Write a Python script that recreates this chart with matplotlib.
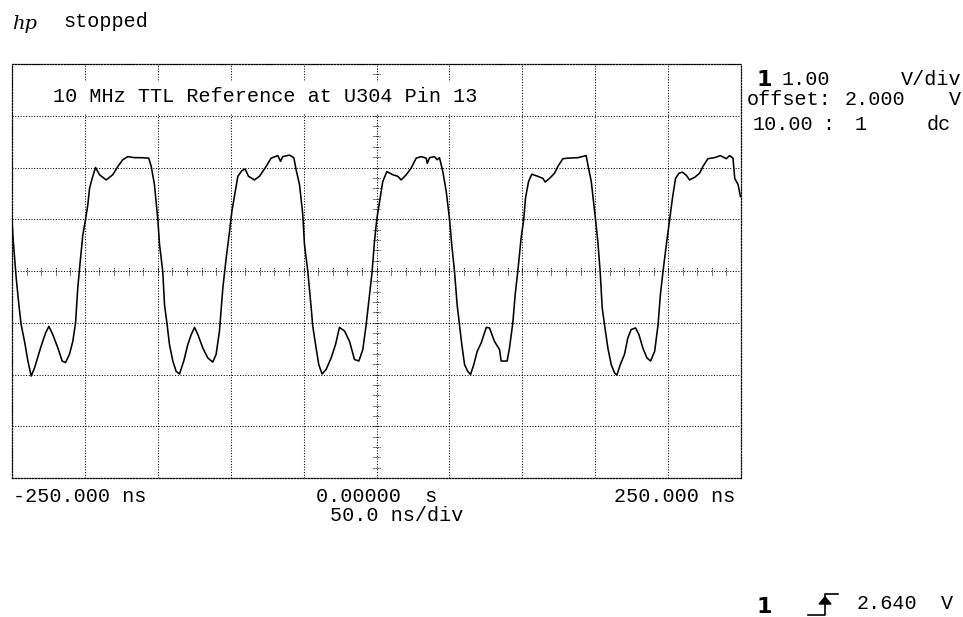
import numpy as np
import matplotlib
matplotlib.use("Agg")
import matplotlib.pyplot as plt
from matplotlib.lines import Line2D
from matplotlib.patches import Rectangle, Polygon

# scope settings
time_per_div = 50.0     # ns/div
volts_per_div = 1.0     # V/div
offset_v = 2.0          # centre of screen
n_hdiv, n_vdiv = 10, 8
trig_level = 2.640

# trace, one cycle at a time (time in ns, volts)
t_cyc1 = [-250.0, -249.3, -247.1, -245.3, -243.7, -241.4, -239.1, -236.8, -234.5, -231.1,
          -229.3, -227.0, -224.7, -222.0, -218.5, -215.6, -213.3, -210.6, -208.3, -206.4,
          -204.9, -203.2, -201.4, -199.6, -198.0, -196.8, -195.0, -192.7, -190.0, -185.4,
          -180.9, -177.4, -174.0, -170.6, -166.0, -161.4, -156.2, -154.5, -152.3]
v_cyc1 = [3.00, 2.64, 1.86, 1.35, 0.96, 0.64, 0.26, -0.03, 0.13, 0.45,
          0.61, 0.80, 0.93, 0.77, 0.51, 0.26, 0.23, 0.39, 0.64, 1.00,
          1.67, 2.19, 2.70, 2.99, 3.28, 3.60, 3.79, 4.00, 3.86, 3.76,
          3.86, 4.02, 4.15, 4.21, 4.19, 4.19, 4.18, 4.02, 3.67]

t_cyc2 = [-150.0, -148.8, -146.6, -145.4, -143.6, -142.0, -139.7, -137.4, -135.1, -132.2,
          -129.4, -127.1, -124.8, -122.5, -119.1, -115.7, -112.3, -110.0, -107.7, -105.4,
          -103.1, -100.8, -99.2, -97.3, -95.1, -92.3, -90.1, -87.8, -83.7, -80.3,
          -75.7, -72.3, -67.7, -65.8, -64.3, -59.7, -56.7, -55.1, -52.8]
v_cyc2 = [3.00, 2.51, 1.99, 1.35, 0.96, 0.58, 0.26, 0.06, 0.01, 0.26,
          0.58, 0.77, 0.91, 0.77, 0.51, 0.32, 0.24, 0.39, 0.84, 1.67,
          2.25, 2.76, 3.15, 3.47, 3.83, 3.94, 3.97, 3.83, 3.76, 3.83,
          4.02, 4.18, 4.23, 4.12, 4.21, 4.24, 4.19, 3.95, 3.67]

t_cyc3 = [-50.6, -49.4, -47.1, -44.8, -43.7, -41.8, -39.6, -37.3, -34.5, -31.1,
          -28.1, -25.4, -21.9, -18.5, -15.1, -12.1, -9.4, -7.1, -4.8, -3.0,
          -1.4, 0.2, 2.1, 4.3, 7.1, 11.2, 14.6, 16.9, 20.4, 23.8,
          27.2, 30.7, 34.1, 34.8, 36.4, 39.8, 41.6, 43.2, 45.5, 47.8]
v_cyc3 = [3.10, 2.51, 1.99, 1.29, 0.93, 0.58, 0.19, 0.01, 0.10, 0.32,
          0.58, 0.91, 0.84, 0.64, 0.29, 0.26, 0.48, 0.96, 1.54, 1.99,
          2.57, 3.00, 3.34, 3.73, 3.92, 3.86, 3.83, 3.76, 3.86, 3.99,
          4.18, 4.21, 4.18, 4.08, 4.19, 4.21, 4.15, 4.19, 3.92, 3.54]

t_cyc4 = [50.1, 51.6, 53.5, 55.3, 56.9, 58.5, 60.4, 62.6, 64.5, 66.7,
          69.1, 71.8, 75.3, 77.5, 80.9, 84.4, 85.5, 89.6, 91.2, 93.5,
          95.1, 96.9, 99.2, 101.0, 102.2, 104.3, 106.5, 110.6, 114.1, 115.7,
          118.7, 122.1, 124.4, 127.8, 131.2, 138.1, 143.8, 145.4, 147.3]
v_cyc4 = [3.00, 2.51, 1.99, 1.35, 0.96, 0.58, 0.19, 0.06, 0.00, 0.19,
          0.45, 0.61, 0.91, 0.90, 0.64, 0.48, 0.26, 0.26, 0.51, 1.00,
          1.54, 1.99, 2.64, 3.00, 3.41, 3.73, 3.87, 3.83, 3.79, 3.72,
          3.79, 3.89, 4.02, 4.17, 4.18, 4.19, 4.23, 3.99, 3.73]

t_cyc5 = [150.2, 151.8, 153.4, 154.8, 156.4, 158.7, 161.0, 163.3, 164.9, 167.2,
          170.1, 172.4, 174.7, 177.7, 180.0, 182.7, 185.5, 188.0, 190.8, 193.1,
          194.7, 196.5, 198.8, 201.1, 203.0, 205.1, 207.5, 209.8, 212.5, 214.7,
          218.2, 221.6, 223.9, 227.3, 231.9, 235.8, 239.9, 242.2, 244.5, 245.7,
          248.0, 249.6]
v_cyc5 = [3.00, 2.57, 1.99, 1.29, 0.96, 0.51, 0.19, 0.03, -0.01, 0.19,
          0.39, 0.71, 0.87, 0.90, 0.77, 0.51, 0.32, 0.26, 0.45, 0.96,
          1.54, 1.99, 2.51, 3.00, 3.41, 3.79, 3.89, 3.91, 3.85, 3.76,
          3.81, 3.89, 4.02, 4.17, 4.19, 4.23, 4.17, 4.23, 4.18, 3.79,
          3.67, 3.44]

t_ns = np.concatenate([t_cyc1, t_cyc2, t_cyc3, t_cyc4, t_cyc5])
volts = np.concatenate([v_cyc1, v_cyc2, v_cyc3, v_cyc4, v_cyc5])

# screen layout in pixels
W, H = 963, 617
def fx(px):
    return px / W
def fy(py):
    return 1 - py / H

MONO = "Liberation Mono"
FS = 14.5

fig = plt.figure(figsize=(W / 100, H / 100), dpi=100)
ax = fig.add_axes([fx(12), fy(478), 729 / W, 414 / H])

half_t = time_per_div * n_hdiv / 2
half_v = volts_per_div * n_vdiv / 2
ax.set_xlim(-half_t, half_t)
ax.set_ylim(offset_v - half_v, offset_v + half_v)

# graticule
dots = (0, (1, 1.6))
ax.set_xticks(np.arange(-half_t, half_t + 1, time_per_div))
ax.set_yticks(np.arange(offset_v - half_v, offset_v + half_v + 0.01, volts_per_div))
ax.tick_params(length=0, labelbottom=False, labelleft=False)
ax.grid(True, color="black", lw=0.75, linestyle=dots)
for s in ax.spines.values():
    s.set_linestyle((0, (1, 1.3)))
    s.set_linewidth(0.9)

# minor ticks along the centre lines
minor_t = np.arange(-half_t, half_t + 1, time_per_div / 5)
ax.vlines(minor_t, offset_v - 0.07, offset_v + 0.07, color="black", lw=0.75, linestyles=(0, (1, 1)))
minor_v = np.arange(offset_v - half_v, offset_v + half_v + 0.01, volts_per_div / 5)
ax.hlines(minor_v, -2.2, 2.2, color="black", lw=0.75, linestyles=(0, (1, 1)))

# white box behind the label
ax.add_patch(Rectangle((fx(13), fy(114)), 497 / W, 32 / H, transform=fig.transFigure,
                       facecolor="white", edgecolor="none", zorder=2))

ax.plot(t_ns, volts, color="black", lw=1.15, zorder=3)

# header
fig.text(fx(12), fy(24), "hp", fontsize=14, fontstyle="italic", family="DejaVu Serif",
         ha="left", va="center")
fig.text(fx(63), fy(27), "stopped", fontsize=FS, family=MONO, va="baseline")
fig.text(fx(53), fy(102), "10 MHz TTL Reference at U304 Pin 13", fontsize=FS, family=MONO,
         va="baseline", zorder=5)

# time labels
fig.text(fx(13), fy(502), "-250.000 ns", fontsize=FS, family=MONO, va="baseline")
fig.text(fx(316), fy(502), "0.00000  s", fontsize=FS, family=MONO, va="baseline")
fig.text(fx(735), fy(502), "250.000 ns", fontsize=FS, family=MONO, va="baseline", ha="right")
fig.text(fx(330), fy(521), "50.0 ns/div", fontsize=FS, family=MONO, va="baseline")

# channel settings
fig.text(fx(756), fy(86), "1", fontsize=16, fontweight="bold", family="DejaVu Sans", va="baseline")
fig.text(fx(782), fy(85), f"{volts_per_div:.2f}", fontsize=FS, family=MONO, va="baseline")
fig.text(fx(962), fy(85), "V/div", fontsize=FS, family=MONO, va="baseline", ha="right")
fig.text(fx(747), fy(105), "offset:", fontsize=FS, family=MONO, va="baseline")
fig.text(fx(845), fy(105), f"{offset_v:.3f}", fontsize=FS, family=MONO, va="baseline")
fig.text(fx(961), fy(105), "V", fontsize=FS, family=MONO, va="baseline", ha="right")
fig.text(fx(753), fy(130), "10.00", fontsize=FS, family=MONO, va="baseline")
fig.text(fx(822), fy(130), ":", fontsize=FS, family=MONO, va="baseline")
fig.text(fx(855), fy(130), "1", fontsize=FS, family=MONO, va="baseline")
fig.text(fx(951), fy(130), "dc", fontsize=FS, family=MONO, va="baseline", ha="right")

# trigger readout
fig.text(fx(756), fy(613), "1", fontsize=16, fontweight="bold", family="DejaVu Sans", va="baseline")
fig.add_artist(Line2D([fx(808), fx(825), fx(825), fx(838)], [fy(615), fy(615), fy(594), fy(594)],
                      transform=fig.transFigure, color="black", lw=1.2))
fig.add_artist(Polygon([[fx(819), fy(604)], [fx(831), fy(604)], [fx(825), fy(597)]],
                       closed=True, transform=fig.transFigure, color="black"))
fig.text(fx(857), fy(609), f"{trig_level:.3f}", fontsize=FS, family=MONO, va="baseline")
fig.text(fx(953), fy(609), "V", fontsize=FS, family=MONO, va="baseline", ha="right")

fig.savefig("out.png", dpi=100, facecolor="white")
